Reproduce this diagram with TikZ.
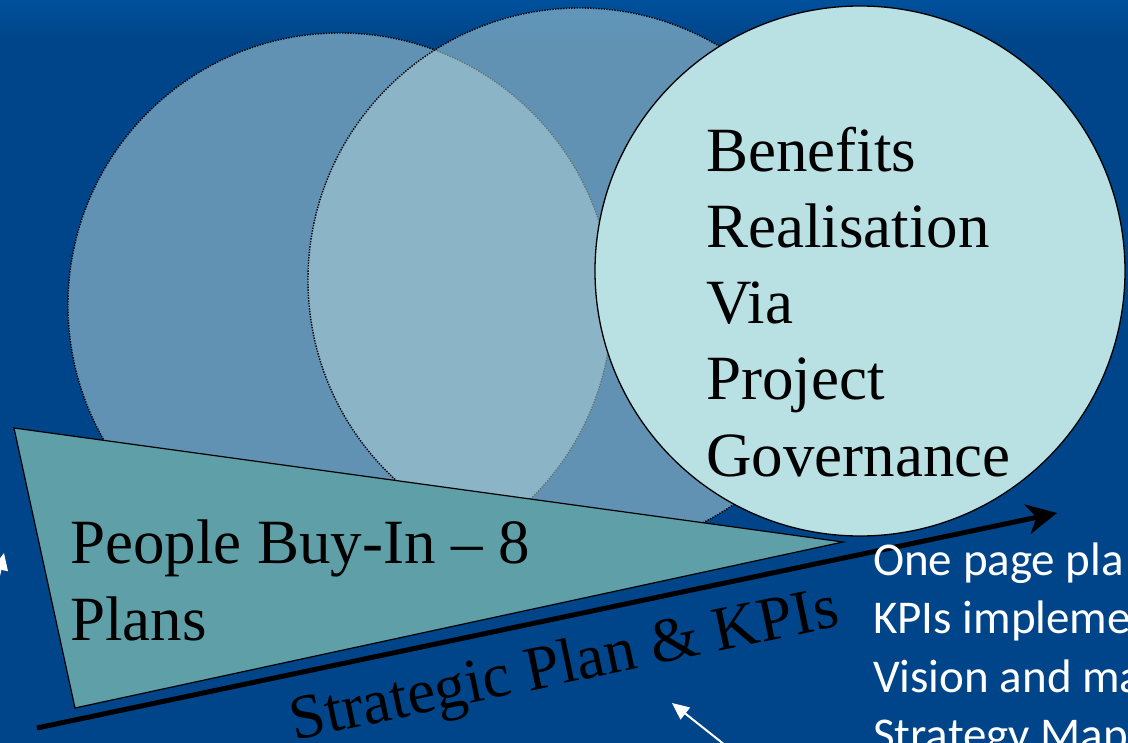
\documentclass[tikz,border=0pt]{standalone}
\usepackage{fontspec}
\setmainfont{Liberation Serif}
\newfontfamily\notefont{Carlito}
\usetikzlibrary{arrows.meta}

\definecolor{bgblue}{RGB}{0,69,137}
\definecolor{bgtop}{RGB}{0,80,156}
\definecolor{veil}{RGB}{171,206,214}
\definecolor{paleaqua}{RGB}{185,224,227}
\definecolor{teal}{RGB}{95,160,168}

\tikzset{
  veilcircle/.style={circle, minimum size=544pt, inner sep=0pt,
    fill=veil, fill opacity=0.57, draw=black,
    line width=1.4pt, dash pattern=on 1.4pt off 1.3pt},
  bigtext/.style={font=\fontsize{63}{76}\selectfont, anchor=base west, inner sep=0pt},
  notetext/.style={font=\notefont\fontsize{47}{58}\selectfont, text=white,
    anchor=base west, inner sep=0pt},
  pointer/.style={draw=white, line width=2pt, -{Triangle[length=17pt,width=15pt]}}
}

\begin{document}
\begin{tikzpicture}[x=1pt,y=-1pt]
  \useasboundingbox (0,0) rectangle (1128,743);
  \clip (0,0) rectangle (1128,743);

  % slide background with its lighter top band
  \fill[bgblue] (0,0) rectangle (1128,743);
  \shade[top color=bgtop, bottom color=bgblue] (0,0) rectangle (1128,40);

  % two overlapping translucent circles
  \node[veilcircle] (left) at (340,305) {};
  \node[veilcircle] (mid) at (580,280) {};

  % wedge for people buy-in
  \coordinate (wa) at (14,428);
  \coordinate (wb) at (75,708);
  \coordinate (wc) at (843,542);
  \filldraw[fill=teal, draw=black, line width=1.2pt] (wa) -- (wb) -- (wc) -- cycle;

  % benefits circle
  \node[circle, minimum size=530pt, inner sep=0pt, fill=paleaqua,
        draw=black, line width=1.3pt] (ben) at (860,271) {};

  \node[bigtext] (b1) at (706,172) {Benefits};
  \node[bigtext] (b2) at (706,248) {Realisation};
  \node[bigtext] (b3) at (706,324) {Via};
  \node[bigtext] (b4) at (706,400) {Project};
  \node[bigtext] (b5) at (706,476) {Governance};

  \node[bigtext] (p1) at (70,563) {People Buy-In – 8};
  \node[bigtext] (p2) at (70,640) {Plans};

  % strategy axis
  \coordinate (axs) at (37,728);
  \coordinate (axe) at (1057,513);
  \draw[line width=5pt, -{Stealth[length=30pt,width=30pt,inset=9pt]}] (axs) -- (axe);

  \node[font=\fontsize{63}{74}\selectfont, anchor=base, inner sep=0pt,
        rotate=11.8] (sp) at (568,683) {Strategic Plan \& KPIs};

  % notes on the right
  \node[notetext] (n1) at (873,575) {One page pla};
  \node[notetext] (n2) at (873,633) {KPIs impleme};
  \node[notetext] (n3) at (873,692) {Vision and ma};
  \node[notetext] (n4) at (873,750) {Strategy Map};

  % white pointers
  \coordinate (q1) at (-4,590);
  \coordinate (q1t) at (4,553);
  \draw[pointer] (q1) -- (q1t);
  \coordinate (q2) at (735,753);
  \coordinate (q2t) at (672,703);
  \draw[pointer] (q2) -- (q2t);
\end{tikzpicture}
\end{document}
